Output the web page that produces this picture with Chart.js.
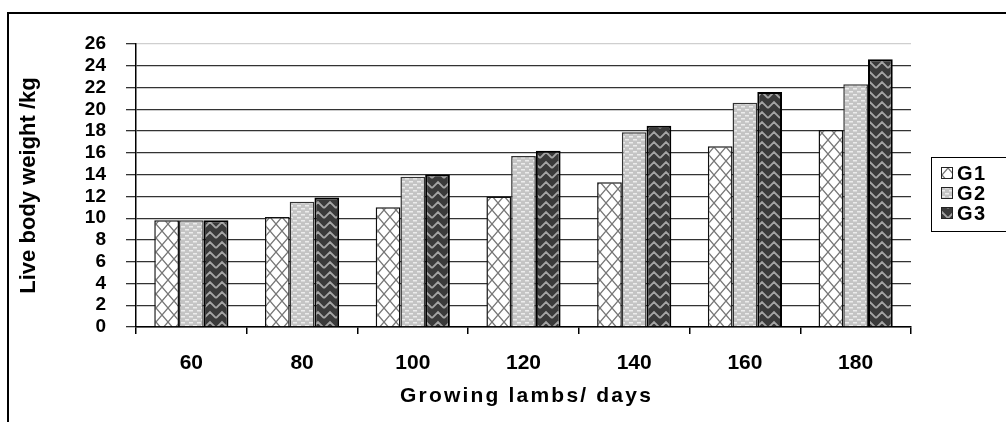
<!DOCTYPE html>
<html lang="en">
<head>
  <meta charset="UTF-8" />
  <title>Live body weight of growing lambs</title>
  <script src="https://cdn.jsdelivr.net/npm/chart.js"></script>
  <style>
    body { margin: 0; padding: 0; background: #fff; }
    .wrap { position: relative; width: 1006px; height: 422px; }
  </style>
</head>
<body>
  <div class="wrap"><canvas id="weightChart"></canvas></div>

  <script>
    const days = ['60', '80', '100', '120', '140', '160', '180'];
    const groups = ['G1', 'G2', 'G3'];
    const g1 = [9.8, 10.1, 11.0, 12.0, 13.3, 16.6, 18.1];
    const g2 = [9.8, 11.5, 13.8, 15.7, 17.9, 20.6, 22.3];
    const g3 = [9.8, 11.9, 14.0, 16.2, 18.5, 21.6, 24.6];
    const yTicks = [0, 2, 4, 6, 8, 10, 12, 14, 16, 18, 20, 22, 24, 26];
    const xTitle = 'Growing lambs/ days';
    const yTitle = 'Live body weight /kg';

    const FONT = "'Liberation Sans', Arial, sans-serif";

    // little tiles to imitate the old Excel fill patterns
    function makeTile(w, h, paint) {
      const c = document.createElement('canvas');
      c.width = w; c.height = h;
      paint(c.getContext('2d'));
      return document.createElement('canvas').getContext('2d').createPattern(c, 'repeat');
    }

    const crossFill = makeTile(12, 14, g => {
      g.fillStyle = '#fff'; g.fillRect(0, 0, 12, 14);
      g.strokeStyle = '#777'; g.lineWidth = 1.3;
      g.beginPath();
      g.moveTo(0, 0); g.lineTo(12, 14);
      g.moveTo(12, 0); g.lineTo(0, 14);
      g.stroke();
    });

    const dashFill = makeTile(8, 6, g => {
      g.fillStyle = '#c4c4c4'; g.fillRect(0, 0, 8, 6);
      g.fillStyle = '#ececec';
      g.fillRect(1, 1, 4, 1.5);
      g.fillRect(5, 4, 4, 1.5);
      g.fillRect(-3, 4, 4, 1.5);
    });

    const zigFill = makeTile(12, 10, g => {
      g.fillStyle = '#3a3a3a'; g.fillRect(0, 0, 12, 10);
      g.strokeStyle = '#a4a4a4'; g.lineWidth = 1.8;
      g.beginPath();
      for (const off of [-10, 0, 10]) {
        g.moveTo(0, 8 + off); g.lineTo(6, 2 + off); g.lineTo(12, 8 + off);
      }
      g.stroke();
    });

    const fills = [crossFill, dashFill, zigFill];
    const borders = ['#111', '#333', '#000'];
    const borderWidths = [1.5, 1.5, 2];

    // outer frame, x title and legend box like the original sheet
    const framePlugin = {
      id: 'frame',
      afterDraw(chart) {
        const ctx = chart.ctx;
        const area = chart.chartArea;
        ctx.save();
        ctx.strokeStyle = '#000';
        ctx.lineWidth = 2;
        ctx.beginPath();
        ctx.moveTo(8, 422); ctx.lineTo(8, 13); ctx.lineTo(1006, 13);
        ctx.stroke();

        // x title, drawn here so the wide letter spacing can be kept
        ctx.fillStyle = '#000';
        ctx.font = "bold 21px " + FONT;
        ctx.letterSpacing = '2.2px';
        ctx.textAlign = 'center';
        ctx.textBaseline = 'middle';
        ctx.fillText(xTitle, (area.left + area.right) / 2 + 3, 396);

        // legend
        ctx.letterSpacing = '1.5px';
        ctx.textAlign = 'left';
        ctx.lineWidth = 1;
        ctx.strokeRect(931.5, 157.5, 90, 74);
        ctx.font = "bold 20px " + FONT;
        chart.data.datasets.forEach((ds, i) => {
          const y = 173 + i * 20;
          ctx.fillStyle = ds.backgroundColor;
          ctx.fillRect(941, y - 6, 12, 12);
          ctx.strokeStyle = '#222';
          ctx.strokeRect(941.5, y - 5.5, 11, 11);
          ctx.fillStyle = '#000';
          ctx.fillText(ds.label, 957, y + 1);
        });
        ctx.restore();
      }
    };

    const datasets = [g1, g2, g3].map((vals, i) => ({
      label: groups[i],
      data: vals,
      backgroundColor: fills[i],
      borderColor: borders[i],
      borderWidth: borderWidths[i],
      categoryPercentage: 0.67,
      barPercentage: 1.0
    }));

    new Chart(document.getElementById('weightChart'), {
      type: 'bar',
      data: { labels: days, datasets: datasets },
      options: {
        responsive: true,
        maintainAspectRatio: false,
        animation: false,
        layout: { padding: { left: 10, top: 44, right: 95, bottom: 5 } },
        plugins: {
          legend: { display: false },
          tooltip: { enabled: false }
        },
        scales: {
          x: {
            grid: { drawOnChartArea: false, color: '#000', tickLength: 7, lineWidth: 1.5 },
            border: { color: '#000', width: 1.5 },
            ticks: { color: '#000', padding: 17, font: { family: FONT, size: 21, weight: 'bold' } },
            afterFit(scale) { scale.height = 422 - 327 - 5; }
          },
          y: {
            min: 0, max: 26,
            afterBuildTicks(scale) { scale.ticks = yTicks.map(v => ({ value: v })); },
            grid: {
              color: ctx => (ctx.tick && ctx.tick.value === 26 ? '#cfcfcf' : '#333'),
              tickColor: '#333',
              tickLength: 10,
              lineWidth: 1.3
            },
            border: { color: '#000', width: 1.5 },
            ticks: {
              color: '#000', padding: 20, autoSkip: false,
              font: { family: FONT, size: 19, weight: 'bold', lineHeight: 1 }
            },
            title: {
              display: true, text: yTitle, color: '#000',
              padding: { top: 6, bottom: 0 },
              font: { family: FONT, size: 22, weight: 'bold' }
            },
            afterFit(scale) { scale.width = 136 - 10; }
          }
        }
      },
      plugins: [framePlugin]
    });
  </script>
</body>
</html>
